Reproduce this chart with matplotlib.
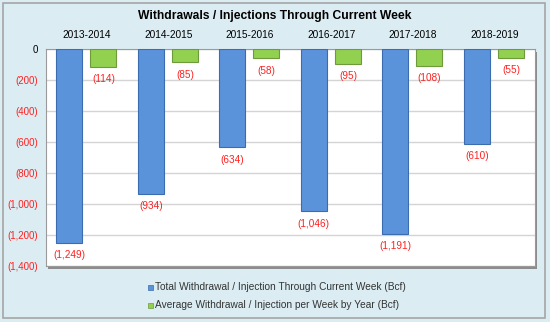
import matplotlib.pyplot as plt
from matplotlib.patches import Rectangle
import numpy as np

plt.rcParams['font.family'] = ['Liberation Sans', 'DejaVu Sans']

years = ["2013-2014", "2014-2015", "2015-2016", "2016-2017", "2017-2018", "2018-2019"]
total = [-1249, -934, -634, -1046, -1191, -610]
avg_week = [-114, -85, -58, -95, -108, -55]
yticks = [0, -200, -400, -600, -800, -1000, -1200, -1400]


def paren(v):
    if v == 0:
        return "0"
    return "({:,})".format(abs(int(v)))


fig = plt.figure(figsize=(5.5, 3.22), dpi=100)
fig.patch.set_facecolor('#dbedf3')
fig.add_artist(Rectangle((0.006, 0.012), 0.985, 0.978, transform=fig.transFigure,
                         fill=False, edgecolor='#a6a6a6', lw=1.2))

ax = fig.add_axes([46 / 550, 1 - 266 / 322, 489 / 550, 217 / 322])
ax.set_facecolor('white')

# drop shadow of plot area
fig.add_artist(Rectangle((48 / 550, 1 - 268.5 / 322), 489 / 550, 217 / 322,
                         transform=fig.transFigure, facecolor='#8c8c8c',
                         edgecolor='none', zorder=-1))

x = np.arange(len(years))
w = 0.32
ax.bar(x - 0.215, total, w, color='#5b93db', edgecolor='#3c6cb0', lw=0.8, zorder=3)
ax.bar(x + 0.205, avg_week, w, color='#92d050', edgecolor='#6e9a3c', lw=0.8, zorder=3)

for xi, v in zip(x, total):
    ax.annotate(paren(v), (xi - 0.215, v), xytext=(0, -5.5), textcoords='offset points',
                ha='center', va='top', color='#ff2020', fontsize=7.2)
for xi, v in zip(x, avg_week):
    ax.annotate(paren(v), (xi + 0.205, v), xytext=(0, -5.5), textcoords='offset points',
                ha='center', va='top', color='#ff2020', fontsize=7.2)

ax.set_xlim(-0.5, len(years) - 0.5)
ax.set_ylim(-1400, 0)
ax.set_yticks(yticks)
ax.set_yticklabels([paren(t) for t in yticks], fontsize=7)
for lbl, t in zip(ax.get_yticklabels(), yticks):
    lbl.set_color('black' if t == 0 else '#ff2020')
ax.set_xticks(x)
ax.set_xticklabels(years, fontsize=7.3)
ax.xaxis.tick_top()
ax.tick_params(axis='x', length=0, pad=6.5)
ax.tick_params(axis='y', length=0, pad=6)
ax.grid(axis='y', color='#d4d4d4', lw=1, zorder=0)
for s in ax.spines.values():
    s.set_color('#9a9a9a')

fig.text(0.5, 1 - 16 / 322, "Withdrawals / Injections Through Current Week",
         ha='center', va='center', fontsize=8.7, fontweight='bold')

# legend
fig.add_artist(Rectangle((148 / 550, 1 - 289.5 / 322), 5 / 550, 5 / 322,
                         transform=fig.transFigure, facecolor='#5b93db', edgecolor='#3c6cb0', lw=0.5))
fig.add_artist(Rectangle((148 / 550, 1 - 307.5 / 322), 5 / 550, 5 / 322,
                         transform=fig.transFigure, facecolor='#92d050', edgecolor='#6e9a3c', lw=0.5))
fig.text(155 / 550, 1 - 287 / 322, "Total Withdrawal / Injection Through Current Week (Bcf)",
         ha='left', va='center', fontsize=7.3, color='#333333')
fig.text(155 / 550, 1 - 305 / 322, "Average Withdrawal / Injection per Week by Year (Bcf)",
         ha='left', va='center', fontsize=7.3, color='#333333')

fig.savefig('out.png', dpi=100, facecolor=fig.get_facecolor())
